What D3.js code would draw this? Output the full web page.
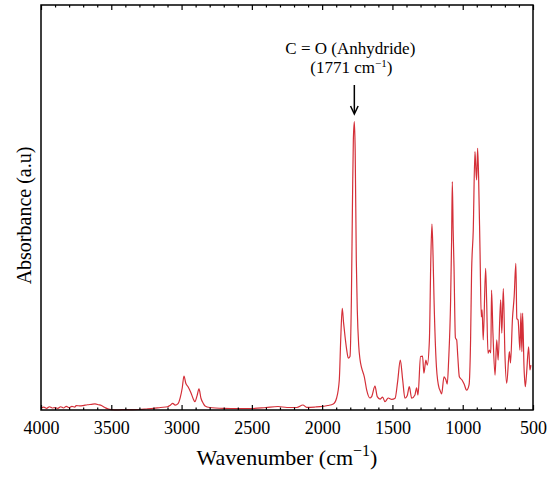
<!DOCTYPE html>
<html><head><meta charset="utf-8">
<script src="https://cdn.jsdelivr.net/npm/d3@7"></script>
<style>body{margin:0;background:#fff}svg{display:block}text{font-family:"Liberation Serif","Times New Roman",serif;fill:#000}</style>
</head><body>
<svg id="c" width="549" height="477"></svg>
<script>
// Spectrum: wavenumber (cm^-1) and absorbance (a.u., 0-100)
const wavenumbers = [4000,3980,3960,3940,3920,3900,3880,3860,3840,3820,3800,3780,3760,3750,3720,3700,3670,3640,3616,3590,3570,3545,3520,3500,3450,3400,3350,3300,3250,3200,3150,3100,3080,3063,3045,3025,3010,2995,2983,2970,2954,2935,2915,2905,2890,2876,2862,2845,2833,2800,2700,2600,2500,2400,2314,2250,2180,2137,2110,2050,2015,1960,1921,1897,1878,1868,1857,1848,1837,1825,1814,1802,1792,1784,1778,1771,1765,1757,1750,1740,1730,1719,1700,1683,1660,1648,1624,1608,1588,1570,1553,1530,1505,1481,1463,1444,1427,1411,1395,1380,1363,1340,1328,1318,1300,1286,1276,1262,1252,1237,1227,1219,1212,1204,1187,1168,1162,1150,1133,1119,1110,1100,1086,1079,1074,1068,1062,1052,1043,1035,1024,1005,990,972,955,944,937,925,913,908,901,894,887,877,868,862,854,837,830,820,810,800,795,785,770,758,748,730,722,711,700,687,668,660,646,634,622,615,606,593,586,579,574,564,555,547,531,522,515];
const absorbance = [0.5,0.7,0.4,0.8,0.5,0.6,0.4,0.8,0.5,0.9,0.6,0.9,0.7,1.1,1.0,1.1,1.3,1.4,1.5,1.3,1.1,0.6,0.2,0.1,0.05,0.1,0.1,0.12,0.25,0.4,0.62,0.8,1.2,1.65,1.2,1.6,3.0,5.5,8.4,6.6,5.75,4.4,2.6,2.05,3.5,5.2,2.9,1.6,1.0,0.62,0.42,0.37,0.37,0.62,0.86,0.62,0.62,1.23,0.67,0.74,0.81,1.11,1.48,2.96,7.41,17.3,25.1,21.7,18.1,14.8,12.8,13.2,27.2,51.9,66.7,71.2,64.2,37.0,24.7,16.0,12.3,10.4,8.2,4.9,2.96,3.3,5.9,3.3,2.7,3.2,2.05,2.96,2.6,2.9,7.0,12.3,7.4,2.9,3.5,5.75,2.9,3.7,5.5,3.7,13.2,13.3,9.1,12.3,11.1,17.3,37.0,45.9,39.5,27.2,10.7,5.4,4.9,3.95,8.2,7.4,6.4,12.3,27.2,42.0,56.4,44.4,35.4,17.8,17.3,13.2,8.2,7.4,6.4,4.9,6.2,17.3,33.8,44.4,63.8,60.5,56.8,64.6,57.6,39.5,23.0,24.7,17.3,35.0,27.2,14.0,14.8,14.1,29.6,19.0,8.6,17.3,12.3,27.2,19.0,30.0,14.1,6.6,14.4,11.6,22.6,28.0,36.2,22.6,22.2,14.8,23.9,14.4,23.9,10.7,5.75,8.4,15.6,9.9,11.1];
const majorTicks = [4000,3500,3000,2500,2000,1500,1000,500];
const minorTicks = d3.range(500, 4001, 100).filter(v => v % 500 !== 0);

const svg = d3.select("#c");
const L = 41, R = 533, T = 5, B = 410;
const x = d3.scaleLinear().domain([4000, 500]).range([L, R]);
const y = d3.scaleLinear().domain([0, 100]).range([B, T]);

const data = wavenumbers.map((w, i) => ({w, a: absorbance[i]}));

svg.append("path")
  .datum(data)
  .attr("fill", "none")
  .attr("stroke", "#d42f38")
  .attr("stroke-width", 1.2)
  .attr("d", d3.line().x(d => x(d.w)).y(d => y(d.a)).curve(d3.curveMonotoneX));

// axes with inward ticks
function ax(gen, ty, size, fmt) {
  const g = svg.append("g").attr("transform", `translate(0,${ty})`)
    .call(gen(x).tickValues(fmt === "minor" ? minorTicks : majorTicks)
      .tickSize(size).tickPadding(8).tickFormat(fmt === "label" ? d3.format("d") : ""));
  g.select(".domain").remove();
  g.selectAll(".tick line").attr("stroke", "#000").attr("stroke-width", 1.2);
  g.selectAll("text").style("font-family", '"Liberation Serif",serif').style("font-size", "18px").attr("fill", "#000");
  return g;
}
ax(d3.axisBottom, B, -5, "label").selectAll("text").attr("dy", "0.71em").attr("y", 11);
ax(d3.axisBottom, B, -2.5, "minor");
ax(d3.axisTop, T, -5, "none");
ax(d3.axisTop, T, -2.5, "minor");

svg.append("rect").attr("x", L).attr("y", T).attr("width", R - L).attr("height", B - T)
  .attr("fill", "none").attr("stroke", "#000").attr("stroke-width", 1.5);

// axis titles
const xt = svg.append("text").attr("x", (L + R) / 2).attr("y", 465)
  .attr("text-anchor", "middle").style("font-size", "22px");
xt.append("tspan").text("Wavenumber (cm");
xt.append("tspan").text("\u22121").style("font-size", "16px").attr("dy", -9);
xt.append("tspan").text(")").attr("dy", 9);

svg.append("text").attr("transform", `translate(31,${(T + B) / 2 + 8}) rotate(-90)`)
  .attr("text-anchor", "middle").style("font-size", "20px").text("Absorbance (a.u)");

// annotation
const px = x(1771);
svg.append("text").attr("x", px - 4).attr("y", 54).attr("text-anchor", "middle")
  .style("font-size", "17px").text("C = O (Anhydride)");
const a2 = svg.append("text").attr("x", px - 3).attr("y", 73).attr("text-anchor", "middle")
  .style("font-size", "17px");
a2.append("tspan").text("(1771 cm");
a2.append("tspan").text("\u22121").style("font-size", "11px").attr("dy", -6);
a2.append("tspan").text(")").attr("dy", 6);

svg.append("line").attr("x1", px).attr("x2", px).attr("y1", 85).attr("y2", 113)
  .attr("stroke", "#000").attr("stroke-width", 1.5);
svg.append("path").attr("d", `M${px - 3.8},${106} L${px},${114} L${px + 3.8},${106}`)
  .attr("fill", "none").attr("stroke", "#000").attr("stroke-width", 1.5);
</script>
</body></html>
